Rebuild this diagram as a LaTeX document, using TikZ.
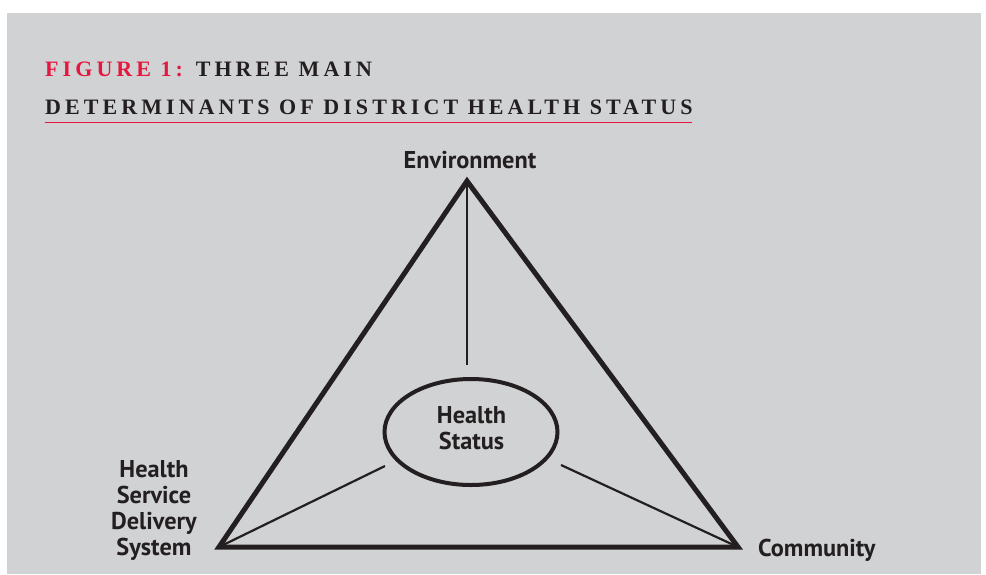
\documentclass[tikz,border=0pt]{standalone}
\usepackage{fontspec}
\setmainfont{Liberation Serif}
\newfontfamily\labelfont{PT Sans}
\newfontfamily\titlefont[LetterSpace=18.5]{Liberation Serif}
\usetikzlibrary{shapes.geometric}
\definecolor{bggray}{RGB}{209,210,212}
\definecolor{figred}{RGB}{228,24,62}
\definecolor{ink}{RGB}{35,31,32}
\tikzset{
  lbl/.style={font=\labelfont\bfseries\fontsize{24.3}{25.7}\selectfont, text=ink, inner sep=0pt},
  ttl/.style={font=\titlefont\bfseries\fontsize{22}{26}\selectfont, text=ink, inner sep=0pt, anchor=base west},
  side/.style={draw=ink, line width=5pt, line join=miter},
  spoke/.style={draw=ink, line width=2.2pt},
  hsbox/.style={ellipse, draw=ink, line width=4pt, minimum width=173pt, minimum height=106pt, inner sep=0pt}
}
\begin{document}
\begin{tikzpicture}[x=1pt,y=-1pt]
\useasboundingbox (0,0) rectangle (986,574);
\fill[bggray] (7,13) rectangle (981,574);
% title
\node[ttl] (t1) at (45,76) {\textcolor{figred}{FIGURE 1:} THREE MAIN};
\node[ttl] (t2) at (45,114) {DETERMINANTS OF DISTRICT HEALTH STATUS};
\coordinate (ul1) at (45,122.3);
\coordinate (ul2) at (692,122.3);
\draw[figred, line width=1.5pt] (ul1) -- (ul2);
% triangle
\coordinate (A) at (467,181);
\coordinate (B) at (219,547);
\coordinate (C) at (738,547);
\draw[side] (A) -- (C) -- (B) -- cycle;
% center ellipse
\node[hsbox] (HS) at (471,432) {};
\node[lbl, align=center] (hstxt) at (471.5,428.5) {Health\\Status};
\coordinate (sA) at (467,365);
\coordinate (sB) at (385,466);
\coordinate (sC) at (561,465);
\draw[spoke] (A) -- (sA);
\draw[spoke] (B) -- (sB);
\draw[spoke] (C) -- (sC);
% labels
\node[lbl, anchor=base] (env) at (470,168) {Environment};
\node[lbl, anchor=base west] (com) at (758,556) {Community};
\node[lbl, align=center, anchor=base] (hsds) at (154,555) {Health\\Service\\Delivery\\System};
\end{tikzpicture}
\end{document}
